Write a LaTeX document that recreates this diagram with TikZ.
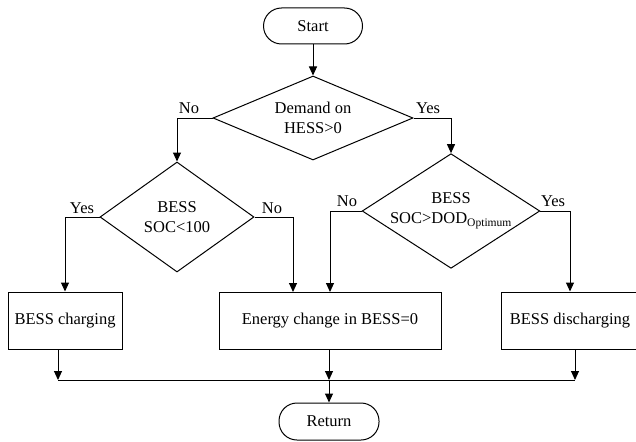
\documentclass[tikz,border=0pt]{standalone}
\usepackage{fontspec}
\setmainfont{Liberation Serif}
\usetikzlibrary{arrows.meta,shapes.geometric}

\begin{document}
\begin{tikzpicture}[x=1pt,y=-1pt,line width=1pt,>={Triangle[length=9pt,width=8pt]},
term/.style={rectangle, draw, rounded corners=18pt, minimum width=99pt, minimum height=36pt, font=\fontsize{16.5}{19}\selectfont},
cond/.style={diamond, draw, inner sep=0pt, align=center, font=\fontsize{16.5}{20}\selectfont},
proc/.style={rectangle, draw, align=center, minimum height=57pt, font=\fontsize{16.5}{19}\selectfont},
lbl/.style={font=\fontsize{16.5}{19}\selectfont, inner sep=0pt}]
\useasboundingbox (0,0) rectangle (636,441);

\draw (313,26) node[term] (Start) {Start};
\draw (313,118) node[cond, minimum width=200pt, minimum height=84pt, aspect=2.38] (D1) {Demand on\\HESS>0};
\draw (177,217) node[cond, minimum width=154pt, minimum height=110pt, aspect=1.4] (D2) {BESS\\SOC<100};
\draw (451,211) node[cond, minimum width=170pt, minimum height=110pt, aspect=1.55] (D3) {BESS\\SOC>DOD\textsubscript{Optimum}};
\draw (65,320.5) node[proc, minimum width=114pt] (Chg) {BESS charging};
\draw (330,320.5) node[proc, minimum width=222pt] (Zero) {Energy change in BESS=0};
\draw (570,320.5) node[proc, minimum width=138pt] (Dis) {BESS discharging};
\draw (329,421.5) node[term, minimum width=100pt, minimum height=37pt] (Ret) {Return};

\draw (189,108) node[lbl] (No1) {No};
\draw (428,108) node[lbl] (Yes1) {Yes};
\draw (82,208) node[lbl] (Yes2) {Yes};
\draw (272,208) node[lbl] (No2) {No};
\draw (347,201) node[lbl] (No3) {No};
\draw (553,201) node[lbl] (Yes3) {Yes};

\coordinate (J1) at (58,380);
\coordinate (J2) at (329,380);
\coordinate (J3) at (575,380);

\draw[->] (Start)--(D1);
\draw[->] (D1.west) -| (D2.north);
\draw[->] (D1.east) -| (D3.north);
\draw[->] (D2.west) -| (Chg.north);
\draw[->] (D2.east) -| (293,292);
\draw[->] (D3.west) -| (330,292);
\draw[->] (D3.east) -| (Dis.north);
\draw[->] (Chg.south -| J1)--(J1);
\draw[->] (Zero.south -| J2)--(J2);
\draw[->] (Dis.south -| J3)--(J3);
\draw (J1)--(J3);
\draw[->] (J2)--(Ret);

\end{tikzpicture}
\end{document}
